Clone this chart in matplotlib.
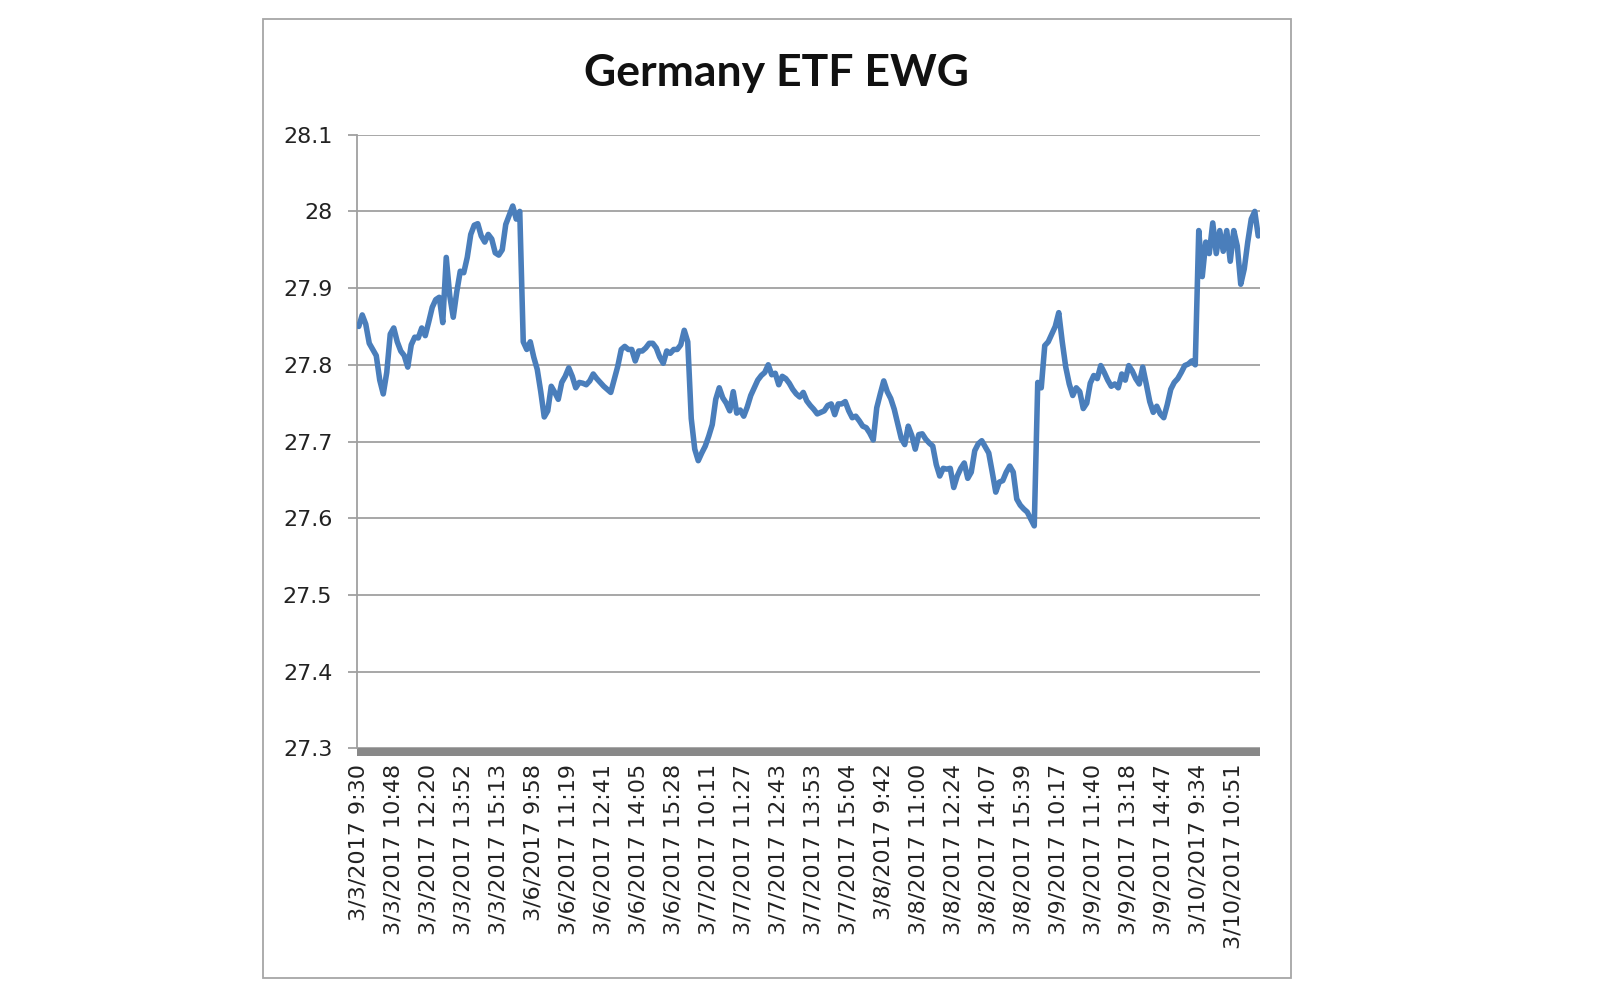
import matplotlib
matplotlib.use("Agg")
import matplotlib.pyplot as plt
from matplotlib.patches import Rectangle

title = "Germany ETF EWG"

tick_labels = ["3/3/2017 9:30", "3/3/2017 10:48", "3/3/2017 12:20", "3/3/2017 13:52", "3/3/2017 15:13",
               "3/6/2017 9:58", "3/6/2017 11:19", "3/6/2017 12:41", "3/6/2017 14:05", "3/6/2017 15:28",
               "3/7/2017 10:11", "3/7/2017 11:27", "3/7/2017 12:43", "3/7/2017 13:53", "3/7/2017 15:04",
               "3/8/2017 9:42", "3/8/2017 11:00", "3/8/2017 12:24", "3/8/2017 14:07", "3/8/2017 15:39",
               "3/9/2017 10:17", "3/9/2017 11:40", "3/9/2017 13:18", "3/9/2017 14:47",
               "3/10/2017 9:34", "3/10/2017 10:51"]
label_step = 10

y_ticks = [27.3, 27.4, 27.5, 27.6, 27.7, 27.8, 27.9, 28.0, 28.1]
y_tick_labels = ["27.3", "27.4", "27.5", "27.6", "27.7", "27.8", "27.9", "28", "28.1"]

mar3 = [27.85, 27.865, 27.853, 27.828, 27.82, 27.812, 27.78, 27.762, 27.79, 27.84,
        27.848, 27.83, 27.818, 27.812, 27.797, 27.826, 27.836, 27.835, 27.848, 27.838,
        27.856,
        27.875, 27.885, 27.888, 27.855, 27.94, 27.89, 27.862, 27.895, 27.922, 27.92,
        27.94, 27.97, 27.982, 27.984, 27.968, 27.96, 27.97, 27.964, 27.946,
        27.943, 27.95, 27.983, 27.995, 28.007, 27.99, 28.0]

mar6 = [27.83, 27.82, 27.83, 27.81, 27.794, 27.765, 27.732, 27.74, 27.772, 27.764,
        27.755, 27.777, 27.785, 27.796, 27.785, 27.77, 27.777, 27.776, 27.774, 27.779,
        27.788, 27.782, 27.777, 27.772,
        27.768,
        27.764, 27.781, 27.798, 27.82, 27.824, 27.82, 27.82, 27.805, 27.818,
        27.818, 27.822, 27.828, 27.828, 27.822, 27.81, 27.802, 27.818, 27.815, 27.82,
        27.82, 27.826, 27.845, 27.83]

mar7 = [27.73, 27.69, 27.675, 27.685, 27.694, 27.707, 27.722, 27.755, 27.77, 27.757,
        27.75, 27.74, 27.765, 27.737, 27.741, 27.733, 27.745, 27.76, 27.77, 27.78,
        27.786, 27.79, 27.8, 27.787, 27.789, 27.774, 27.785, 27.782,
        27.776, 27.768, 27.762, 27.758, 27.764, 27.753, 27.747, 27.742, 27.736, 27.738,
        27.74, 27.747, 27.749, 27.735, 27.749, 27.749, 27.752, 27.74, 27.731, 27.733,
        27.727, 27.72, 27.718, 27.711, 27.702]

mar8 = [27.744, 27.762, 27.779, 27.765, 27.756,
        27.742, 27.723, 27.704, 27.696, 27.72, 27.708, 27.69, 27.709, 27.71, 27.703, 27.698,
        27.694, 27.67, 27.655, 27.665, 27.664, 27.665, 27.64, 27.655, 27.665, 27.672,
        27.652, 27.66, 27.688, 27.697, 27.701, 27.693, 27.685, 27.66, 27.634, 27.647,
        27.649, 27.66, 27.668, 27.66, 27.625, 27.617, 27.612, 27.608, 27.599, 27.59]

mar9 = [27.777, 27.77, 27.825, 27.83, 27.84, 27.85, 27.868, 27.83, 27.797, 27.775, 27.76,
        27.77, 27.765, 27.743, 27.75, 27.776, 27.786, 27.782, 27.799, 27.79, 27.78,
        27.772, 27.775, 27.77, 27.788, 27.78, 27.799, 27.792, 27.782, 27.775, 27.797,
        27.775, 27.752, 27.738, 27.746, 27.736, 27.731, 27.748, 27.768, 27.777, 27.782,
        27.79, 27.799, 27.801, 27.805, 27.80]

mar10 = [27.975, 27.915, 27.96, 27.945, 27.985, 27.945, 27.975, 27.948, 27.975, 27.935,
         27.975, 27.955, 27.905, 27.925, 27.96, 27.99, 28.0, 27.968]

prices = mar3 + mar6 + mar7 + mar8 + mar9 + mar10
x = list(range(len(prices)))

plt.rcParams['font.family'] = ['DejaVu Sans']

fig = plt.figure(figsize=(16, 10), dpi=100)
fig.patch.set_facecolor('white')

# chart border
fig.patches.append(Rectangle((263 / 1600, 1 - 978 / 1000), (1291 - 263) / 1600, (978 - 19) / 1000,
                             transform=fig.transFigure, fill=False, edgecolor='#a6a6a6', lw=1.3))

ax = fig.add_axes([357 / 1600, 1 - 748.3 / 1000, 903 / 1600, (748.3 - 134.7) / 1000])
ax.plot(x, prices, color='#4a7ebb', lw=4.0, solid_joinstyle='round', solid_capstyle='round', zorder=3)

ax.set_xlim(-0.5, len(prices) - 0.5)
ax.set_ylim(27.3, 28.1)
ax.set_yticks(y_ticks)
ax.set_yticklabels(y_tick_labels)
ax.set_xticks(list(range(0, label_step * len(tick_labels), label_step)))
ax.set_xticklabels(tick_labels, rotation=90)

ax.grid(axis='y', color='#a0a0a0', lw=1.3, zorder=1)
ax.set_axisbelow(True)
for s in ['top', 'right', 'bottom']:
    ax.spines[s].set_visible(False)
ax.spines['left'].set_color('#a0a0a0')
ax.spines['left'].set_linewidth(1.3)

ax.tick_params(axis='y', length=6.8, width=1.3, color='#a0a0a0', pad=11, labelsize=16, labelcolor='#222222')
ax.tick_params(axis='x', length=0, pad=11, labelsize=16, labelcolor='#222222')

# dense category tick band under the axis
ax.add_patch(Rectangle((0, 0), 1, -8 / 613.6, transform=ax.transAxes, clip_on=False,
                       facecolor='#888888', edgecolor='none', zorder=2))

fig.text(776 / 1600, 1 - 86 / 1000, title, ha='center', va='baseline',
         fontsize=32, fontweight='bold', family=['Lato', 'DejaVu Sans'], color='#111111')

fig.savefig('out.png', dpi=100)
